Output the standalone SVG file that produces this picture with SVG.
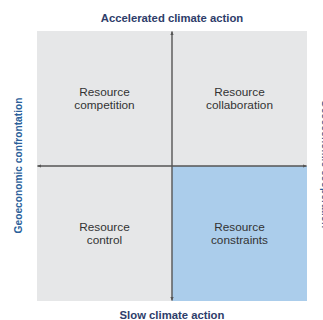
<svg xmlns="http://www.w3.org/2000/svg" width="323" height="320" viewBox="0 0 323 320">
  <style>
    .q { fill: #e6e7e8; }
    .qb { fill: #abcdeb; }
    .ql { font-family: "Liberation Sans", Arial, sans-serif; font-size: 11.8px; fill: #333333; text-anchor: middle; }
    .axt { font-family: "Liberation Sans", Arial, sans-serif; font-size: 11.3px; font-weight: bold; fill: #2e3d6a; text-anchor: middle; }
    .axs { font-family: "Liberation Sans", Arial, sans-serif; font-size: 10.2px; font-weight: bold; fill: #2b5f9a; text-anchor: middle; }
    .axis { stroke: #555555; stroke-width: 1.4; fill: none; }
  </style>
  <defs>
    <marker id="ah" viewBox="0 0 6 6" refX="5.5" refY="3" markerWidth="4" markerHeight="4" orient="auto" markerUnits="userSpaceOnUse">
      <path d="M0,0.5 L6,3 L0,5.5 Z" fill="#555555"/>
    </marker>
  </defs>
  <rect width="323" height="320" fill="#ffffff"/>

  <g id="competition">
    <rect class="q" x="37" y="31" width="135" height="135"/>
    <text class="ql" x="104.5" y="95.5">Resource</text>
    <text class="ql" x="104.5" y="108.5">competition</text>
  </g>
  <g id="collaboration">
    <rect class="q" x="172" y="31" width="135" height="135"/>
    <text class="ql" x="239.5" y="95.5">Resource</text>
    <text class="ql" x="239.5" y="108.5">collaboration</text>
  </g>
  <g id="control">
    <rect class="q" x="37" y="166" width="135" height="135"/>
    <text class="ql" x="104.5" y="231">Resource</text>
    <text class="ql" x="104.5" y="244">control</text>
  </g>
  <g id="constraints">
    <rect class="qb" x="172" y="166" width="135" height="135"/>
    <text class="ql" x="239.5" y="231">Resource</text>
    <text class="ql" x="239.5" y="244">constraints</text>
  </g>

  <g id="connectors">
    <line class="axis" x1="172" y1="166" x2="172" y2="31.5" marker-end="url(#ah)"/>
    <line class="axis" x1="172" y1="166" x2="172" y2="300.5" marker-end="url(#ah)"/>
    <line class="axis" x1="172" y1="166" x2="37.5" y2="166" marker-end="url(#ah)"/>
    <line class="axis" x1="172" y1="166" x2="306.5" y2="166" marker-end="url(#ah)"/>
  </g>

  <g id="axis-labels">
    <text class="axt" x="172" y="22">Accelerated climate action</text>
    <text class="axt" x="172" y="318.5">Slow climate action</text>
    <text class="axs" transform="translate(21.8,165.5) rotate(-90)">Geoeconomic confrontation</text>
    <text class="axs" transform="translate(322.2,164) rotate(90)">Geoeconomic cooperation</text>
  </g>
</svg>
